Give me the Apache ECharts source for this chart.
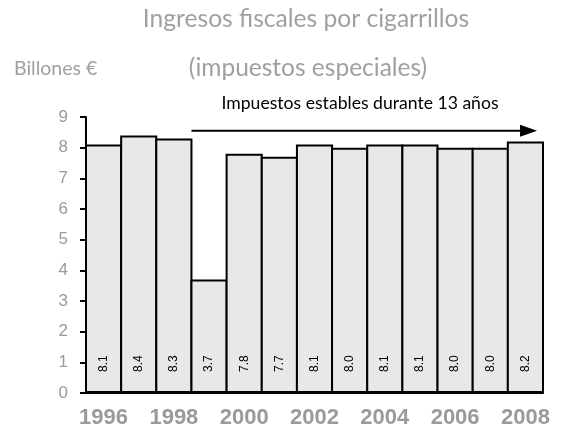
<!DOCTYPE html>
<html><head><meta charset="utf-8">
<script src="https://cdn.jsdelivr.net/npm/echarts@6/dist/echarts.min.js"></script>
<style>html,body{margin:0;padding:0;background:#fff}#c{width:563px;height:433px}</style>
</head><body><div id="c"></div>
<script>
const years = ['1996','1997','1998','1999','2000','2001','2002','2003','2004','2005','2006','2007','2008'];
const revenue = [8.1, 8.4, 8.3, 3.7, 7.8, 7.7, 8.1, 8.0, 8.1, 8.1, 8.0, 8.0, 8.2];
const yTicks = [0,1,2,3,4,5,6,7,8,9];
const titleText = 'Ingresos fiscales por cigarrillos';
const subtitleText = '(impuestos especiales)';
const unitText = 'Billones €';
const arrowStartYear = '1999';
const arrowLevel = 8.55;
const arrowText = 'Impuestos estables durante 13 años';

const GRID = {left: 86, right: 20, top: 117, bottom: 40};
const BORDER = 2;
const bandPx = (563 - GRID.left - GRID.right) / years.length;

const chart = echarts.init(document.getElementById('c'));
const option = {
  animation: false,
  grid: GRID,
  xAxis: {
    type: 'category', data: years,
    axisLine: {lineStyle: {color: '#000', width: 2}},
    axisTick: {show: false},
    axisLabel: {interval: 1, margin: 14, fontFamily: 'Liberation Sans', fontWeight: 'bold', fontSize: 22, color: '#9a9a9a'}
  },
  yAxis: {
    type: 'value', min: 0, max: 9, interval: 1,
    splitLine: {show: false},
    axisLine: {show: true, lineStyle: {color: '#000', width: 2}},
    axisTick: {show: true, length: 6, lineStyle: {color: '#000', width: 2}},
    axisLabel: {margin: 18, fontFamily: 'Liberation Sans', fontSize: 17, color: '#9a9a9a',
      formatter: v => yTicks.includes(v) ? String(v) : ''}
  },
  series: [{
    type: 'bar', data: revenue, barWidth: bandPx + BORDER, barCategoryGap: '0%',
    itemStyle: {color: '#e8e8e8', borderColor: '#000', borderWidth: BORDER},
    label: {show: true, position: 'insideBottom', rotate: 90, align: 'left', verticalAlign: 'middle',
      distance: 21, fontFamily: 'Liberation Sans', fontSize: 12, color: '#000',
      formatter: p => p.value.toFixed(1)}
  }]
};
chart.setOption(option);

const idx = years.indexOf(arrowStartYear);
const p0 = chart.convertToPixel({gridIndex: 0}, [idx, arrowLevel]);
const p1 = chart.convertToPixel({gridIndex: 0}, [idx + 1, arrowLevel]);
const band = p1[0] - p0[0];
const xStart = p0[0] - band / 2;
const pLast = chart.convertToPixel({gridIndex: 0}, [years.length - 1, arrowLevel]);
const xEnd = pLast[0] + band * 0.33;
const y = p0[1];
chart.setOption({
  graphic: [
    {type: 'text', x: 306, y: 19, style: {text: titleText, align: 'center', verticalAlign: 'middle',
      font: '24.6px Lato', fill: '#a0a0a0'}},
    {type: 'text', x: 308, y: 68, style: {text: subtitleText, align: 'center', verticalAlign: 'middle',
      font: '24.5px Lato', fill: '#a0a0a0'}},
    {type: 'text', x: 14, y: 69, style: {text: unitText, align: 'left', verticalAlign: 'middle',
      font: '19.5px Lato', fill: '#a0a0a0'}},
    {type: 'line', shape: {x1: xStart, y1: y, x2: xEnd - 16, y2: y}, style: {stroke: '#000', lineWidth: 2}},
    {type: 'polygon', shape: {points: [[xEnd - 17, y - 6], [xEnd, y], [xEnd - 17, y + 6]]}, style: {fill: '#000'}},
    {type: 'text', x: 360, y: y - 27, style: {text: arrowText, align: 'center', verticalAlign: 'middle',
      font: '17.6px Lato', fill: '#000'}}
  ]
});
</script></body></html>
